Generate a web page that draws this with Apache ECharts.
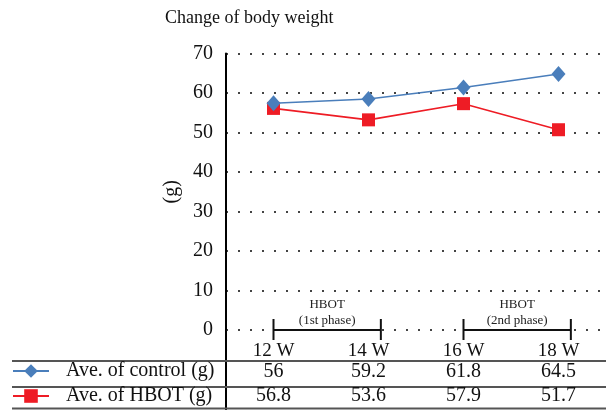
<!DOCTYPE html>
<html><head><meta charset="utf-8">
<script src="https://cdn.jsdelivr.net/npm/echarts@6/dist/echarts.min.js"></script>
<style>html,body{margin:0;padding:0;background:#fff}#c{width:606px;height:410px}</style>
</head><body><div id="c"></div>
<script>
const categories = ['12 W', '14 W', '16 W', '18 W'];
const controlPlot = [57.4, 58.5, 61.4, 64.8];
const hbotPlot = [56.1, 53.2, 57.3, 50.7];
const controlTable = ['56', '59.2', '61.8', '64.5'];
const hbotTable = ['56.8', '53.6', '57.9', '51.7'];
const seriesNames = ['Ave. of control (g)', 'Ave. of HBOT (g)'];
const yMin = 0, yMax = 70, yStep = 10;
const phaseStart = [0, 2];
const phaseSpan = [1.13, 1.13];
const phaseTitle = ['HBOT', 'HBOT'];
const phaseSub = ['(1st phase)', '(2nd phase)'];

const SERIF = "'Liberation Serif','Times New Roman',serif";
const BLUE = '#4a7ebb', RED = '#ee1c25';
const chart = echarts.init(document.getElementById('c'), null, {renderer: 'canvas'});

const option = {
  animation: false,
  backgroundColor: '#fff',
  title: {
    text: 'Change of body weight', left: 160, top: 4,
    textStyle: {fontFamily: SERIF, fontSize: 18, fontWeight: 'normal', color: '#111'}
  },
  grid: {left: 226, top: 53.5, width: 385, height: 276.5, containLabel: false},
  legend: {
    orient: 'vertical', left: 12, top: 361, itemWidth: 36, itemHeight: 17, itemGap: 5,
    padding: 0,
    data: seriesNames,
    textStyle: {fontFamily: SERIF, fontSize: 20, lineHeight: 20, color: '#111', padding: [0, 0, 0, 12]}
  },
  xAxis: {
    type: 'category', data: categories, boundaryGap: true,
    axisLine: {show: false}, axisTick: {show: false},
    axisLabel: {
      margin: 9, interval: 0,
      formatter: (v, i) => '{c|' + v + '}\n{a|' + controlTable[i] + '}\n{b|' + hbotTable[i] + '}',
      rich: {
        c: {fontFamily: SERIF, fontSize: 19, color: '#111', lineHeight: 24},
        a: {fontFamily: SERIF, fontSize: 20, color: '#111', lineHeight: 18},
        b: {fontFamily: SERIF, fontSize: 20, color: '#111', lineHeight: 30}
      }
    }
  },
  yAxis: {
    type: 'value', min: yMin, max: yMax, interval: yStep,
    name: '(g)', nameLocation: 'middle', nameGap: 40, nameRotate: 90,
    nameTextStyle: {fontFamily: SERIF, fontSize: 20, color: '#111'},
    axisLine: {show: true, lineStyle: {color: '#000', width: 2}},
    axisTick: {show: false},
    axisLabel: {margin: 13, fontFamily: SERIF, fontSize: 20, color: '#111'},
    splitLine: {show: true, lineStyle: {color: '#444', width: 2, type: [2, 10], dashOffset: 0}}
  },
  series: [
    {
      name: seriesNames[0], type: 'line', data: controlPlot,
      symbol: 'diamond', symbolSize: [14, 16],
      lineStyle: {color: BLUE, width: 1.6}, itemStyle: {color: BLUE}, z: 3
    },
    {
      name: seriesNames[1], type: 'line', data: hbotPlot,
      symbol: 'rect', symbolSize: 13,
      lineStyle: {color: RED, width: 1.6}, itemStyle: {color: RED}, z: 2
    },
    {
      type: 'custom', silent: true, clip: false,
      data: phaseStart.map((s, i) => [s, 0, phaseSpan[i]]),
      encode: {x: 0, y: 1},
      renderItem: function (params, api) {
        const s = api.value(0), span = api.value(2);
        const p0 = api.coord([s, 0]);
        const p1 = api.coord([s + 1, 0]);
        const xe = p0[0] + (p1[0] - p0[0]) * span;
        const y = p0[1];
        const mid = (p0[0] + xe) / 2;
        const st = {stroke: '#111', lineWidth: 2};
        return {
          type: 'group',
          children: [
            {type: 'line', shape: {x1: p0[0], y1: y, x2: xe, y2: y}, style: st},
            {type: 'line', shape: {x1: p0[0], y1: y - 11, x2: p0[0], y2: y + 10}, style: st},
            {type: 'line', shape: {x1: xe, y1: y - 11, x2: xe, y2: y + 10}, style: st},
            {type: 'text', x: mid, y: y - 25, style: {text: phaseTitle[params.dataIndex], align: 'center', verticalAlign: 'middle', font: '13px ' + SERIF, fill: '#222'}},
            {type: 'text', x: mid, y: y - 9, style: {text: phaseSub[params.dataIndex], align: 'center', verticalAlign: 'middle', font: '13px ' + SERIF, fill: '#222'}}
          ]
        };
      }
    }
  ],
  graphic: [
    {type: 'line', shape: {x1: 226, y1: 330, x2: 226, y2: 410}, style: {stroke: '#000', lineWidth: 2}},
    {type: 'line', shape: {x1: 12, y1: 361, x2: 606, y2: 361}, style: {stroke: '#555', lineWidth: 2}},
    {type: 'line', shape: {x1: 12, y1: 387, x2: 606, y2: 387}, style: {stroke: '#555', lineWidth: 2}},
    {type: 'line', shape: {x1: 12, y1: 408.5, x2: 606, y2: 408.5}, style: {stroke: '#555', lineWidth: 2}}
  ]
};
chart.setOption(option);
</script></body></html>
